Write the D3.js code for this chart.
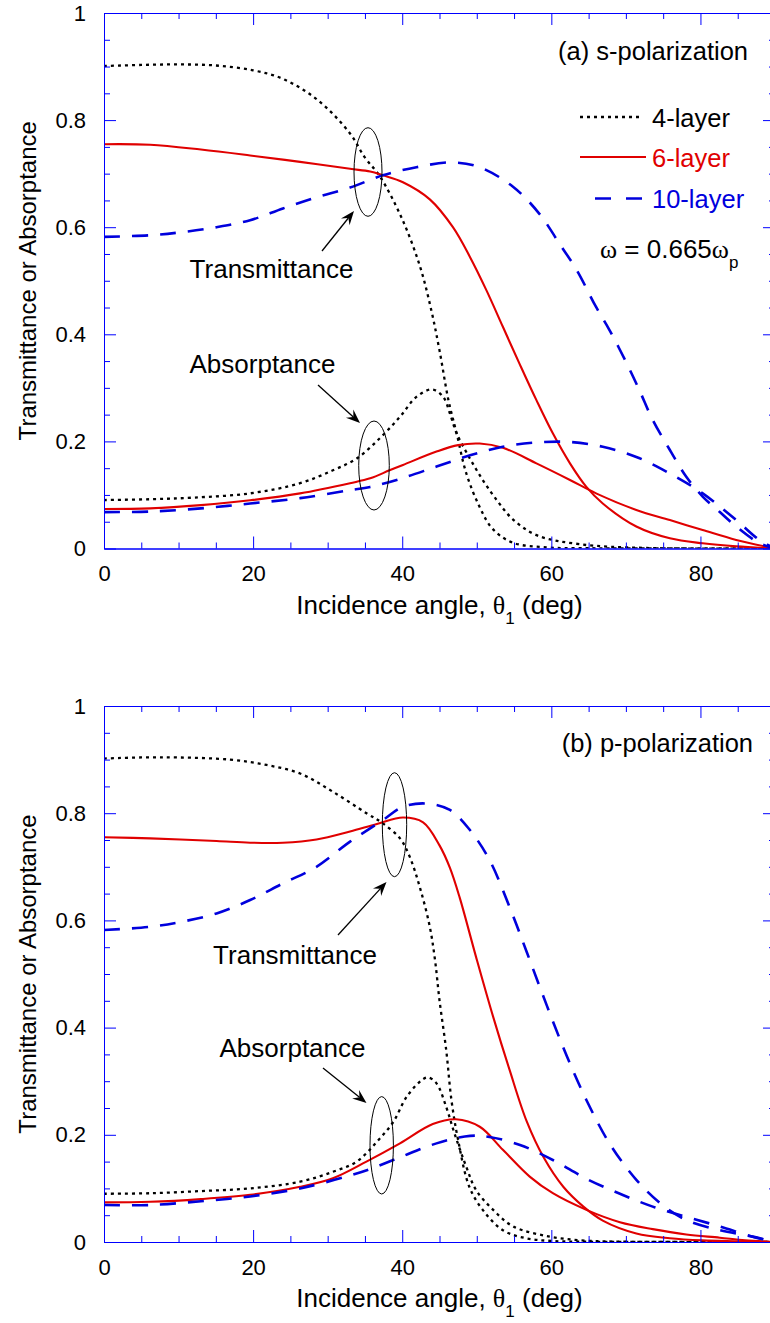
<!DOCTYPE html>
<html>
<head>
<meta charset="utf-8">
<script src="https://cdn.jsdelivr.net/npm/d3@7/dist/d3.min.js"></script>
<style>
  body { margin: 0; background: #fff; }
  svg { display: block; font-family: "Liberation Sans", Arial, sans-serif; }
</style>
</head>
<body>
<svg id="chart" width="770" height="1323"></svg>
<script>
// ---- data: [incidence angle (deg), value] ----
// (a) s-polarization
const sTrans4 = [[0,0.901],[5,0.903],[10,0.904],[15,0.902],[20,0.893],[24,0.877],[28.7,0.837],[33,0.775],[35,0.73],[37,0.695],[40,0.615],[42.4,0.526],[43.9,0.445],[45,0.37],[46.2,0.277],[47.3,0.215],[48.6,0.14],[50.4,0.077],[52.1,0.037],[54.8,0.011],[59.4,0.002],[65,0.0005],[90,0]];
const sAbs4 = [[0,0.0905],[6.2,0.092],[12,0.095],[19.6,0.103],[26.3,0.122],[30.7,0.146],[33.9,0.168],[37,0.206],[39.7,0.246],[41.9,0.283],[44,0.297],[45.5,0.283],[46.4,0.252],[47.3,0.215],[49,0.17],[50.8,0.128],[52.7,0.09],[54.8,0.055],[58,0.025],[63.8,0.008],[72.8,0.001],[90,0]];
const sTrans6 = [[0,0.755],[6.2,0.754],[13,0.745],[19.6,0.734],[26.3,0.722],[33,0.709],[35.7,0.704],[37.4,0.697],[40.1,0.684],[43.7,0.652],[46.8,0.6],[49.1,0.544],[51.3,0.482],[53.5,0.414],[55.8,0.343],[58,0.277],[60.2,0.215],[62.5,0.159],[64.7,0.115],[66.9,0.084],[71.4,0.041],[75.9,0.019],[80.3,0.0097],[84.8,0.004],[90,0]];
const sAbs6 = [[0,0.0737],[6.2,0.075],[13,0.081],[19.6,0.09],[26.3,0.103],[33,0.122],[35.7,0.131],[38.3,0.146],[40.1,0.156],[44.6,0.181],[47.5,0.193],[50.4,0.196],[53.5,0.188],[58,0.159],[62.5,0.128],[66,0.103],[71.4,0.072],[75.9,0.053],[80.3,0.0345],[84.8,0.016],[90,0]];
const sTrans10 = [[0,0.582],[6.2,0.585],[10.6,0.591],[15.1,0.6],[19.6,0.613],[24,0.635],[28.5,0.656],[33,0.674],[37.4,0.697],[41.9,0.712],[46.6,0.721],[50.4,0.712],[54.9,0.675],[58.4,0.625],[61.1,0.569],[63.4,0.52],[66,0.451],[67.8,0.408],[70.1,0.346],[71.8,0.296],[73.6,0.24],[75.9,0.184],[78.1,0.134],[80.3,0.097],[82.6,0.068],[84.8,0.041],[87.9,0.01],[90,0]];
const sAbs10 = [[0,0.068],[6.2,0.069],[13,0.075],[19.6,0.084],[26.3,0.094],[33,0.109],[35.7,0.115],[39.7,0.13],[44.6,0.153],[49.1,0.174],[53.5,0.19],[58,0.198],[62.5,0.199],[66.9,0.19],[71.4,0.171],[75.9,0.14],[80.3,0.103],[84.8,0.053],[87.9,0.016],[90,0]];

// (b) p-polarization
const pTrans4 = [[0,0.902],[5,0.904],[10,0.904],[16.9,0.9],[21.8,0.89],[26.3,0.874],[30.7,0.84],[35.2,0.8],[37.4,0.781],[39.7,0.753],[41,0.719],[42.4,0.66],[43.7,0.588],[44.4,0.526],[45,0.451],[45.9,0.358],[46.6,0.265],[47.5,0.19],[49,0.103],[50.8,0.06],[53.5,0.022],[56.6,0.007],[60,0.002],[65,0.0005],[90,0]];
const pAbs4 = [[0,0.09],[6.2,0.091],[13,0.095],[19.6,0.1],[26.3,0.1125],[30.7,0.131],[33.9,0.15],[36.6,0.187],[38.8,0.224],[40.6,0.271],[42.8,0.304],[43.5,0.307],[44.6,0.296],[45.9,0.252],[47,0.203],[48.6,0.14],[49.9,0.097],[52.2,0.06],[54.9,0.029],[59.8,0.01],[64.7,0.0025],[70,0.0005],[90,0]];
const pTrans6 = [[0,0.755],[6.2,0.753],[15.1,0.748],[19.6,0.745],[24,0.745],[28.5,0.751],[33,0.766],[36.6,0.78],[40.1,0.792],[42.8,0.783],[45,0.74],[46.4,0.698],[47.7,0.643],[49.9,0.532],[52.2,0.42],[54.4,0.321],[56.7,0.225],[59,0.157],[61.6,0.103],[64.3,0.066],[66.9,0.04],[71.4,0.016],[75.9,0.007],[80.3,0.003],[90,0]];
const pAbs6 = [[0,0.074],[6.2,0.075],[13,0.08],[19.6,0.088],[26.3,0.103],[30.7,0.119],[35.2,0.15],[39.7,0.184],[44.1,0.22],[47.2,0.229],[50.4,0.215],[53.5,0.172],[57.1,0.122],[60.2,0.091],[64.7,0.06],[69.2,0.037],[73.6,0.024],[78.1,0.014],[82.6,0.008],[86,0.003],[90,0]];
const pTrans10 = [[0,0.582],[6.2,0.588],[10.6,0.598],[15.1,0.613],[19.6,0.638],[24,0.669],[28.5,0.7],[33,0.747],[37.4,0.787],[40.1,0.812],[43.3,0.818],[46.4,0.806],[49,0.77],[51.7,0.713],[54.4,0.625],[56.7,0.541],[59.4,0.441],[62.1,0.346],[64.7,0.265],[67.8,0.184],[71.4,0.116],[75,0.068],[78.1,0.041],[82.6,0.022],[87,0.01],[90,0]];
const pAbs10 = [[0,0.069],[6.2,0.069],[13,0.076],[19.6,0.085],[26.3,0.1],[33,0.124],[35.7,0.136],[39.7,0.158],[44.6,0.184],[49.1,0.198],[51.7,0.196],[55.8,0.181],[60.2,0.153],[64.7,0.118],[69.2,0.09],[73.6,0.066],[78.1,0.047],[82.6,0.029],[87,0.01],[90,0]];

const layerNames = ['4-layer', '6-layer', '10-layer'];
const xMajorTicks = [0, 20, 40, 60, 80];
const yMajorTicks = [0, 0.2, 0.4, 0.6, 0.8, 1];

// ---- styles ----
const styles = {
  '4-layer': { color: '#000000', text: '#000000', width: 2.3, dash: '3,4' },
  '6-layer': { color: '#e00000', text: '#e00000', width: 2.1, dash: null },
  '10-layer': { color: '#0000dd', text: '#0000dd', width: 2.6, dash: '16,12' }
};
const axisColor = '#0000ff';

const svg = d3.select('#chart');
const x = d3.scaleLinear().domain([0, 90]).range([104, 775]);

const panels = [
  {
    id: 'a', top: 13, bottom: 548.5, title: '(a) s-polarization', titleX: 748, titleY: 60,
    series: [['4-layer', sTrans4], ['4-layer', sAbs4], ['6-layer', sTrans6], ['6-layer', sAbs6], ['10-layer', sTrans10], ['10-layer', sAbs10]],
    notes: [
      { label: 'Transmittance', lx: 271.5, ly: 278, ell: [368, 172, 14, 44.3], arrow: [322, 251, 354, 211] },
      { label: 'Absorptance', lx: 262.5, ly: 373, ell: [374, 465.5, 15.3, 44.5], arrow: [318, 385, 360, 423] }
    ],
    legend: true
  },
  {
    id: 'b', top: 706, bottom: 1242, title: '(b) p-polarization', titleX: 753, titleY: 752,
    series: [['4-layer', pTrans4], ['4-layer', pAbs4], ['6-layer', pTrans6], ['6-layer', pAbs6], ['10-layer', pTrans10], ['10-layer', pAbs10]],
    notes: [
      { label: 'Transmittance', lx: 295, ly: 964, ell: [394.5, 824.7, 12.2, 52], arrow: [338, 935, 386.5, 882] },
      { label: 'Absorptance', lx: 292.5, ly: 1057, ell: [381.7, 1145.3, 11.7, 48.7], arrow: [323, 1068, 366.5, 1103] }
    ],
    legend: false
  }
];

function styleAxis(g) {
  g.select('.domain').attr('stroke', axisColor).attr('stroke-width', 1);
  g.selectAll('.tick line').attr('stroke', axisColor).attr('stroke-width', 1);
  g.selectAll('.tick text').attr('fill', '#000').attr('font-size', '22px')
    .attr('font-family', '"Liberation Sans", Arial, sans-serif');
}

function arrowHead(g, x1, y1, x2, y2) {
  const dx = x2 - x1, dy = y2 - y1;
  const len = Math.hypot(dx, dy);
  const ux = dx / len, uy = dy / len;
  const px = -uy, py = ux;
  const L = 14, Wd = 5.5, notch = 9;
  const bx = x2 - ux * L, by = y2 - uy * L;
  const nx = x2 - ux * notch, ny = y2 - uy * notch;
  g.append('line')
    .attr('x1', x1).attr('y1', y1).attr('x2', nx).attr('y2', ny)
    .attr('stroke', '#000').attr('stroke-width', 1.3);
  g.append('path')
    .attr('d', `M${x2},${y2}L${bx + px * Wd},${by + py * Wd}L${nx},${ny}L${bx - px * Wd},${by - py * Wd}Z`)
    .attr('fill', '#000');
}

panels.forEach(p => {
  const y = d3.scaleLinear().domain([0, 1]).range([p.bottom, p.top]);
  const g = svg.append('g').attr('class', `panel-${p.id}`);

  // clip to plot box
  g.append('clipPath').attr('id', `clip-${p.id}`)
    .append('rect').attr('x', x(0)).attr('y', p.top).attr('width', x(90) - x(0)).attr('height', p.bottom - p.top);

  // curves
  const line = d3.line()
    .x(d => x(d[0]))
    .y(d => y(d[1]))
    .curve(d3.curveCatmullRom.alpha(0.5));

  const curves = g.append('g').attr('clip-path', `url(#clip-${p.id})`);
  p.series.forEach(([name, data]) => {
    const s = styles[name];
    curves.append('path')
      .datum(data)
      .attr('d', line)
      .attr('fill', 'none')
      .attr('stroke', s.color)
      .attr('stroke-width', s.width)
      .attr('stroke-dasharray', s.dash);
  });

  // axes: minor ticks every 5 deg / 0.05, major every 20 deg / 0.2, all inward
  const minorX = d3.range(0, 91, 5).filter(v => v % 20 !== 0);
  const minorY = d3.range(0, 1.001, 0.05).map(v => +v.toFixed(2)).filter(v => Math.abs(v / 0.2 - Math.round(v / 0.2)) > 1e-6);

  const bottomMinor = g.append('g').attr('transform', `translate(0,${p.bottom})`)
    .call(d3.axisBottom(x).tickValues(minorX).tickSize(-6).tickSizeOuter(0).tickFormat(''));
  const bottomMajor = g.append('g').attr('transform', `translate(0,${p.bottom})`)
    .call(d3.axisBottom(x).tickValues(xMajorTicks).tickSize(-12).tickSizeOuter(0).tickPadding(17).tickFormat(d3.format('d')));
  const topMinor = g.append('g').attr('transform', `translate(0,${p.top})`)
    .call(d3.axisTop(x).tickValues(minorX).tickSize(-6).tickSizeOuter(0).tickFormat(''));
  const topMajor = g.append('g').attr('transform', `translate(0,${p.top})`)
    .call(d3.axisTop(x).tickValues(xMajorTicks).tickSize(-12).tickSizeOuter(0).tickFormat(''));

  const leftMinor = g.append('g').attr('transform', `translate(${x(0)},0)`)
    .call(d3.axisLeft(y).tickValues(minorY).tickSize(-6).tickSizeOuter(0).tickFormat(''));
  const leftMajor = g.append('g').attr('transform', `translate(${x(0)},0)`)
    .call(d3.axisLeft(y).tickValues(yMajorTicks).tickSize(-12).tickSizeOuter(0).tickPadding(18).tickFormat(d => d3.format('~g')(d)));
  const rightMinor = g.append('g').attr('transform', `translate(${x(90)},0)`)
    .call(d3.axisRight(y).tickValues(minorY).tickSize(-6).tickSizeOuter(0).tickFormat(''));
  const rightMajor = g.append('g').attr('transform', `translate(${x(90)},0)`)
    .call(d3.axisRight(y).tickValues(yMajorTicks).tickSize(-12).tickSizeOuter(0).tickFormat(''));

  [bottomMinor, bottomMajor, topMinor, topMajor, leftMinor, leftMajor, rightMinor, rightMajor].forEach(styleAxis);

  // axis titles
  const xt = g.append('text')
    .attr('x', (x(0) + x(90)) / 2).attr('y', p.bottom + 65)
    .attr('text-anchor', 'middle').attr('font-size', '26px').attr('fill', '#000');
  xt.append('tspan').text('Incidence angle, ');
  xt.append('tspan').attr('font-family', '"Liberation Serif", serif').text('θ');
  xt.append('tspan').attr('font-size', '17px').attr('dy', 10).text('1');
  xt.append('tspan').attr('dy', -10).text(' (deg)');

  g.append('text')
    .attr('transform', `translate(36,${(p.top + p.bottom) / 2}) rotate(-90)`)
    .attr('text-anchor', 'middle').attr('font-size', '24px').attr('fill', '#000')
    .text('Transmittance or Absorptance');

  // panel title
  g.append('text')
    .attr('x', p.titleX).attr('y', p.titleY)
    .attr('text-anchor', 'end').attr('font-size', '25.5px').attr('fill', '#000')
    .text(p.title);

  // annotations
  p.notes.forEach(n => {
    g.append('ellipse')
      .attr('cx', n.ell[0]).attr('cy', n.ell[1]).attr('rx', n.ell[2]).attr('ry', n.ell[3])
      .attr('fill', 'none').attr('stroke', '#000').attr('stroke-width', 1);
    arrowHead(g, ...n.arrow);
    g.append('text')
      .attr('x', n.lx).attr('y', n.ly)
      .attr('text-anchor', 'middle').attr('font-size', '26px').attr('fill', '#000')
      .text(n.label);
  });

  // legend
  if (p.legend) {
    const rows = [
      { name: layerNames[0], y: 117, x1: 580, x2: 643 },
      { name: layerNames[1], y: 157, x1: 580, x2: 646 },
      { name: layerNames[2], y: 198.5, x1: 595, x2: 642 }
    ];
    rows.forEach(r => {
      const s = styles[r.name];
      g.append('line')
        .attr('x1', r.x1).attr('x2', r.x2).attr('y1', r.y).attr('y2', r.y)
        .attr('stroke', s.color).attr('stroke-width', s.width)
        .attr('stroke-dasharray', r.name === '10-layer' ? '16,15' : s.dash);
      g.append('text')
        .attr('x', 652).attr('y', r.y + 9.5)
        .attr('font-size', '25.5px').attr('fill', s.text)
        .text(r.name);
    });

    const om = g.append('text').attr('x', 600).attr('y', 258).attr('font-size', '26px').attr('fill', '#000');
    om.append('tspan').attr('font-family', '"Liberation Serif", serif').text('ω');
    om.append('tspan').text(' = 0.665');
    om.append('tspan').attr('font-family', '"Liberation Serif", serif').text('ω');
    om.append('tspan').attr('font-size', '17px').attr('dy', 10).text('p');
  }
});
</script>
</body>
</html>
